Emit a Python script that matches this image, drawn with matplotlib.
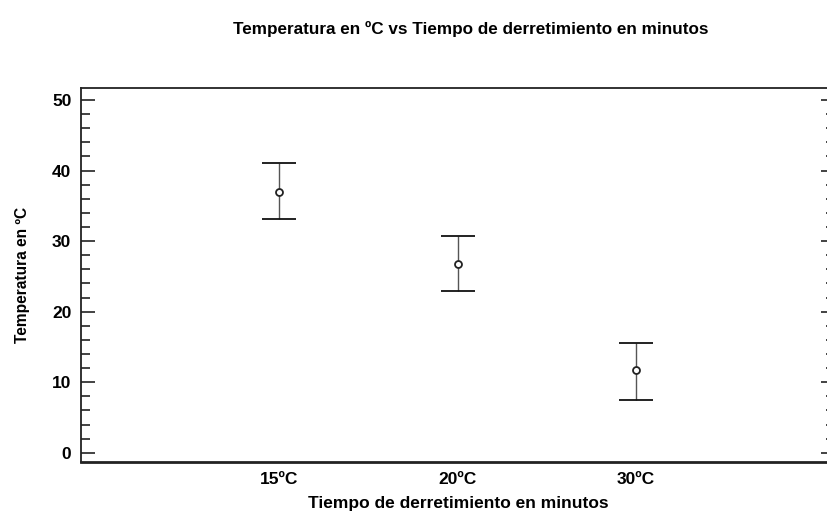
import matplotlib
matplotlib.use('Agg')
import matplotlib.pyplot as plt
from matplotlib.ticker import MultipleLocator

plt.rcParams['font.family'] = ['Liberation Sans', 'DejaVu Sans']

groups = ['15ºC', '20ºC', '30ºC']
positions = [1, 2, 3]
means = [36.9, 26.8, 11.7]
upper = [41.1, 30.7, 15.5]
lower = [33.1, 22.9, 7.55]

err_low = [m - l for m, l in zip(means, lower)]
err_high = [u - m for m, u in zip(means, upper)]

fig = plt.figure(figsize=(8.27, 5.15), dpi=100)
ax = fig.add_axes([0.098, 0.103, 0.912, 0.726])

cont = ax.errorbar(positions, means, yerr=[err_low, err_high], fmt='o',
                   color='#333333', ecolor='#555555', elinewidth=1.0,
                   capsize=12.5, capthick=2.3, markersize=5,
                   markerfacecolor='white', markeredgecolor='#222222',
                   markeredgewidth=1.3)
# darker caps than the stems
for cap in cont[1]:
    cap.set_markeredgecolor('#111111')

ax.set_xlim(-0.114, 4.12)
ax.set_ylim(-1.3, 51.7)
ax.set_xticks(positions)
ax.set_xticklabels(groups, fontsize=12.5, fontweight='bold')
ax.set_yticks([0, 10, 20, 30, 40, 50])
ax.yaxis.set_minor_locator(MultipleLocator(2))
ax.tick_params(axis='y', which='both', direction='in', left=True, right=True,
               labelsize=12.5, width=1.2, color='#222222', pad=7)
ax.tick_params(axis='y', which='major', length=10)
ax.tick_params(axis='y', which='minor', length=6.5)
for lab in ax.get_yticklabels():
    lab.set_fontweight('bold')
ax.tick_params(axis='x', which='both', length=0, pad=7)

ax.spines['left'].set_linewidth(1.3)
ax.spines['bottom'].set_linewidth(2.0)
ax.spines['top'].set_linewidth(1.3)
ax.spines['right'].set_visible(False)
for s in ax.spines.values():
    s.set_color('#222222')

ax.set_xlabel('Tiempo de derretimiento en minutos', fontsize=12.5,
              fontweight='bold', labelpad=7)
ax.set_ylabel('Temperatura en ºC', fontsize=11.2, fontweight='bold', labelpad=16)

fig.text(471 / 827, 1 - 29 / 515, 'Temperatura en ºC vs Tiempo de derretimiento en minutos',
         ha='center', va='center', fontsize=12.3, fontweight='bold')

fig.savefig('out.png', dpi=100)
